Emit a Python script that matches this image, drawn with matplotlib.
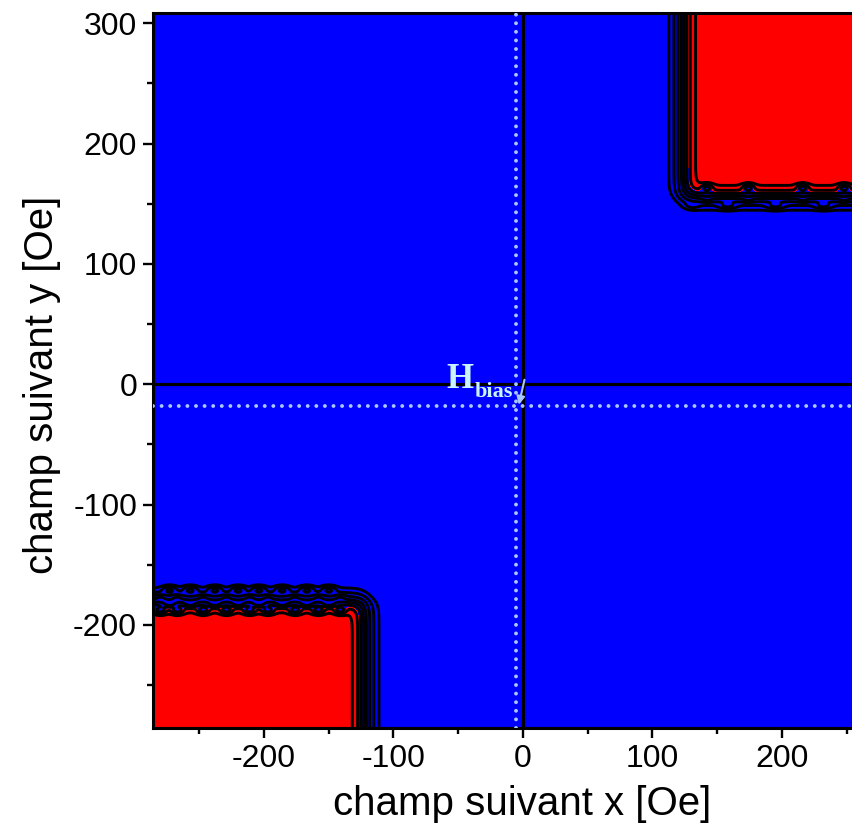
import numpy as np
import matplotlib
matplotlib.use("Agg")
import matplotlib.pyplot as plt
from matplotlib.colors import ListedColormap
from matplotlib.ticker import MultipleLocator

plt.rcParams["font.family"] = ["Liberation Sans", "DejaVu Sans"]
plt.rcParams["axes.unicode_minus"] = False

# Switching map: centres of the transition bands [Oe]
upper_switch_x = 124.5
upper_switch_y = 156.5
lower_switch_x = -123.0
lower_switch_y = -181.0
band_width = 3.4

# Ripple sites along the horizontal transitions [Oe]
upper_ripple_x = [142, 174, 216, 248]
upper_gap_x = [128, 158, 195, 232]
lower_ripple_x = [-280, -267, -247, -229, -211, -197, -176, -158, -141]
lower_gap_x = [-273, -257, -238, -220, -204, -186, -167, -150]

# Exchange-bias offset of the loop centre [Oe]
h_bias_x = -5.0
h_bias_y = -18.0

x_limits = [-285.7, 258.0]
y_limits = [-285.6, 308.3]
x_major = 100
y_major = 100
minor_step = 50

contour_levels = [0.03, 0.09, 0.2, 0.35, 0.5, 0.65, 0.8, 0.93]
fill_threshold = 0.75

BLUE = "#0000ff"
RED = "#ff0000"
DOT = "#a8c8ff"
LABEL = "#c8f4ff"

# ---- field on a grid ----
xs = np.linspace(-300, 275, 1400)
ys = np.linspace(-300, 325, 1400)
X, Y = np.meshgrid(xs, ys)


def step(u):
    return 1.0 / (1.0 + np.exp(-u / band_width))


def sites(xv, centres, width=4.5):
    out = np.zeros_like(xv)
    for c in centres:
        out += np.exp(-((xv - c) / width) ** 2)
    return np.clip(out, 0, 1)


def band(yv, centre, width=3.0):
    return np.exp(-((yv - centre) / width) ** 2)


def corner(dx, dy):
    # switching region with slightly rounded corner
    return step(dx) * step(dy)


r_up = sites(X, upper_ripple_x)
g_up = sites(X, upper_gap_x, width=6.0)
upper = corner(X - upper_switch_x, Y - upper_switch_y)
gate_up = step(X - upper_switch_x - 6)
upper += 0.16 * g_up * band(Y, upper_switch_y - 8, 2.5) * gate_up
upper += 0.10 * r_up * band(Y, upper_switch_y - 3, 2.5) * gate_up
upper -= 0.30 * r_up * band(Y, upper_switch_y + 7, 2.8) * gate_up

r_lo = sites(X, lower_ripple_x)
g_lo = sites(X, lower_gap_x, width=5.0)
lower = corner(lower_switch_x - X, lower_switch_y - Y)
gate_lo = step(lower_switch_x - X - 6)
lower += 0.18 * g_lo * band(Y, lower_switch_y + 10, 2.8) * gate_lo
lower += 0.12 * r_lo * band(Y, lower_switch_y + 4, 2.5) * gate_lo
lower -= 0.32 * r_lo * band(Y, lower_switch_y - 7, 2.8) * gate_lo
lower -= 0.20 * g_lo * band(Y, lower_switch_y - 2, 2.5) * gate_lo

Z = upper + lower

# ---- figure ----
W, H = 852, 838
fig = plt.figure(figsize=(W / 100, H / 100), dpi=100)
ax_left, ax_right, ax_top, ax_bottom = 153, 857, 13.3, 728
ax = fig.add_axes([ax_left / W, (H - ax_bottom) / H,
                   (ax_right - ax_left) / W, (ax_bottom - ax_top) / H])

ax.contourf(X, Y, Z, levels=[-1, fill_threshold, 3],
            cmap=ListedColormap([BLUE, RED]))
ax.contour(X, Y, Z, levels=contour_levels, colors="black",
           linewidths=2.1)

ax.axhline(0, color="black", lw=2.2, zorder=3)
ax.axvline(0, color="black", lw=2.2, zorder=3)

dots = dict(color=DOT, lw=2.8, linestyle=(0, (0.01, 2.2)),
            dash_capstyle="round", zorder=4)
ax.axhline(h_bias_y, **dots)
ax.axvline(h_bias_x, **dots)

ax.text(-59.0, -3.1, "H", family=["Liberation Serif"], weight="bold",
        fontsize=25, color=LABEL, ha="left", va="baseline", zorder=5)
ax.text(-37.5, -10.3, "bias", family=["Liberation Serif"], weight="bold",
        fontsize=16, color=LABEL, ha="left", va="baseline", zorder=5)
ax.annotate("", xy=(h_bias_x + 1.8, h_bias_y + 1.0), xytext=(1.2, 3.8),
            arrowprops=dict(arrowstyle="-|>", color=DOT, lw=1.5,
                            mutation_scale=12, shrinkA=0, shrinkB=0),
            zorder=5)

ax.set_xlim(*x_limits)
ax.set_ylim(*y_limits)
ax.xaxis.set_major_locator(MultipleLocator(x_major))
ax.yaxis.set_major_locator(MultipleLocator(y_major))
ax.xaxis.set_minor_locator(MultipleLocator(minor_step))
ax.yaxis.set_minor_locator(MultipleLocator(minor_step))
ax.tick_params(which="major", direction="out", length=7.5, width=1.7,
               labelsize=23, pad=4)
ax.tick_params(which="minor", direction="out", length=4.3, width=1.7)
for s in ax.spines.values():
    s.set_linewidth(2.2)

ax.set_xlabel("champ suivant x [Oe]", fontsize=29)
ax.set_ylabel("champ suivant y [Oe]", fontsize=29)
ax.xaxis.set_label_coords((522 - ax_left) / (ax_right - ax_left), -0.08)
ax.yaxis.set_label_coords(-0.13, (ax_bottom - 385) / (ax_bottom - ax_top))

fig.savefig("out.png", dpi=100)
